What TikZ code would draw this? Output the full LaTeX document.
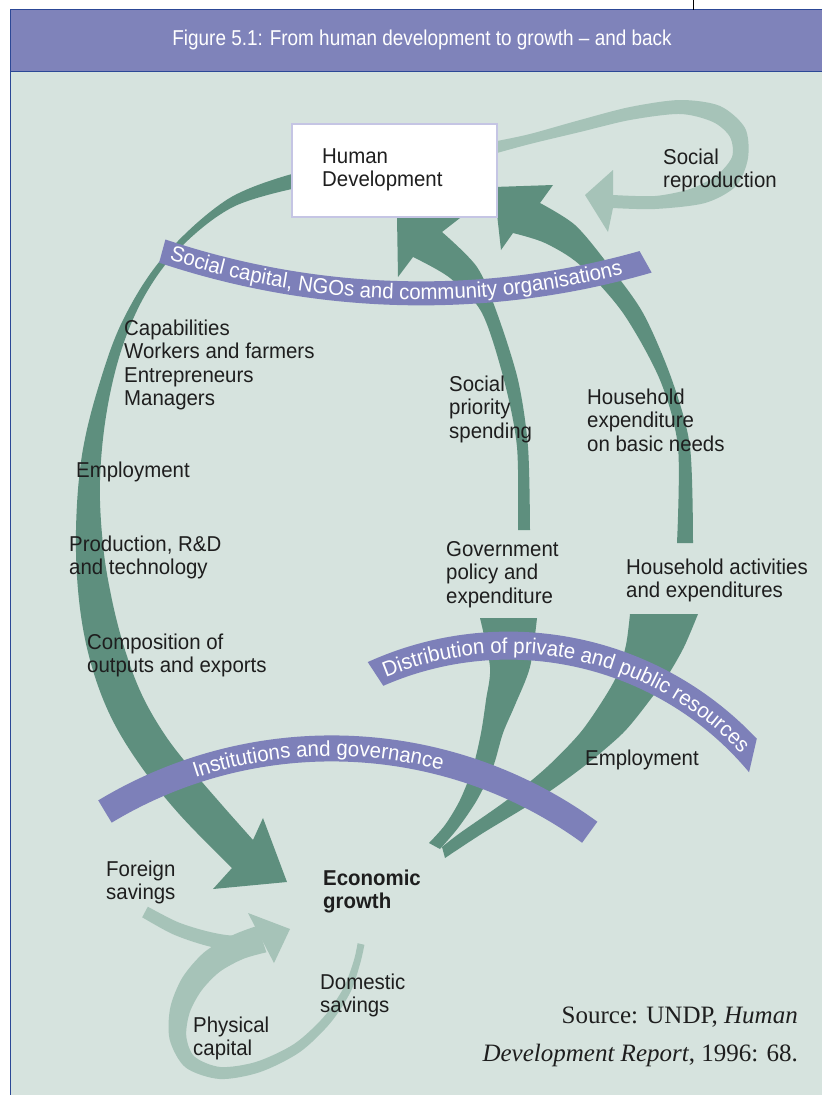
\documentclass[tikz,border=0pt]{standalone}
\usepackage{fontspec}
\setmainfont{Liberation Sans}[FakeStretch=0.95]
\newfontfamily\titlefont{Liberation Sans}[FakeStretch=0.88]
\newfontfamily\srcfont{Liberation Serif}
\usetikzlibrary{decorations.text}
\definecolor{panel}{HTML}{D6E3DE}
\definecolor{band}{HTML}{7F83BA}
\definecolor{edgeblue}{HTML}{2C4896}
\definecolor{dgreen}{HTML}{5E8F7E}
\definecolor{lgreen}{HTML}{A6C3B8}
\definecolor{bannercol}{HTML}{7D80B9}
\definecolor{boxedge}{HTML}{C5C5E4}
\definecolor{ink}{HTML}{1E1E1E}
\newcommand\lblfont{\fontsize{21.5}{23.5}\selectfont}
\newcommand\bannerfont{\fontsize{21.5}{21.5}\selectfont}
\begin{document}
\begin{tikzpicture}[x=1pt,y=-1pt,
  lbl/.style={anchor=base west, inner sep=0pt, align=left, text=ink, font=\lblfont},
  bannertext/.style={decorate, decoration={text along path, text color=white, text align=left, text={|\bannerfont|#1}}}]
\useasboundingbox (0,0) rectangle (822,1095);
\fill[white] (0,0) rectangle (822,1095);
% panel and header
\fill[panel] (10.5,71.5) rectangle (822,1095);
\fill[band] (10.5,9.5) rectangle (822,71.5);
\draw[edgeblue, line width=1.5pt] (822,9.5) -- (10.5,9.5) -- (10.5,1095);
\draw[edgeblue, line width=1.5pt] (10.5,71.5) -- (822,71.5);
\draw[black, line width=0.8pt] (693,0) -- (693,9.5);
\node[text=white, font=\titlefont\fontsize{21.5}{21.5}\selectfont, anchor=base, inner sep=0pt] (title) at (422,45) {Figure 5.1: From human development to growth – and back};

% light green: social reproduction loop
\fill[lgreen] plot[smooth] coordinates {(497,141) (530,134) (580,120) (630,107) (680,100) (720,106) (745,128) (748,158) (736,186) (705,203) (655,209) (613,208)}
  -- (608,232) -- (585,195) -- (613,170)
  -- plot[smooth] coordinates {(613,195) (655,196) (690,189) (716,176) (732,157) (730,137) (713,122) (680,114) (630,120) (580,132) (530,144) (497,153)} -- cycle;

% light green: savings loop
\fill[lgreen] plot[smooth] coordinates {(257.6,925.7) (232.6,935.2) (204.2,952.3) (182.4,977.6) (170.3,1007.5) (169.7,1039.6) (185.5,1067.4) (219.6,1079.0) (259.7,1072.2) (299.8,1052.1) (330.4,1022.9) (350.6,991.8) (360.3,963.0) (364.4,944.8)}
  -- plot[smooth] coordinates {(357.6,943.2) (353.7,961.0) (343.4,988.2) (323.6,1017.1) (294.2,1043.9) (256.3,1061.8) (220.4,1067.0) (194.5,1056.6) (186.3,1036.4) (189.7,1012.5) (201.6,990.4) (219.8,971.7) (243.4,958.8) (266.4,952.3)} -- cycle;
\fill[lgreen] plot[smooth] coordinates {(147.8,906.7) (177.6,922.0) (206.8,931.2) (232.3,935.5) (257.1,932.1)}
  -- plot[smooth] coordinates {(258.9,947.9) (231.7,950.5) (203.2,944.8) (172.4,934.0) (142.2,917.3)} -- cycle;
\fill[lgreen] (290,929) -- (248,913) -- (274,963) -- cycle;

% dark green: big left arrow
\fill[dgreen] plot[smooth, tension=0.6] coordinates {(292,174) (228,199) (165,255) (124,318) (99,385) (82,455) (76,530) (79,600) (90,660) (110,715) (140,765) (180,815) (232,868)}
  -- (213,889) -- (287,882) -- (263,818)
  -- plot[smooth, tension=0.6] coordinates {(253,840) (222,805) (192,770) (165,735) (142,695) (125,650) (112,600) (103,545) (100,480) (107,410) (123,345) (148,290) (183,245) (233,207) (292,189)} -- cycle;
% social priority spending arrow
\fill[dgreen] (397,217) -- (460,218)
  -- plot[smooth] coordinates {(442,232) (477,267) (497,313) (518,380) (528,447) (530,530)}
  -- plot[smooth] coordinates {(518,530) (517,447) (504,380) (482,313) (450,278) (413,257)}
  -- (398,277) -- cycle;
% household expenditure arrow
\fill[dgreen] (494,187) -- (553,185)
  -- plot[smooth] coordinates {(540,203) (575,225) (607,263) (643,313) (672,380) (690,447) (693,543)}
  -- plot[smooth] coordinates {(677,543) (678,447) (660,380) (623,313) (580,265) (545,243) (513,233)}
  -- (501,250) -- cycle;
% government horn
\fill[dgreen] (480,618) -- (537,618)
  -- plot[smooth] coordinates {(537,618) (530,667) (515,705) (503,733) (493,767) (477,800) (458,828) (440,849)}
  -- plot[smooth] coordinates {(429,843) (445,825) (460,800) (473,767) (481,733) (486,700) (490,667) (480,618)} -- cycle;
% household horn
\fill[dgreen] (630,614) -- (698,614)
  -- plot[smooth] coordinates {(698,614) (684,647) (668,675) (650,700) (623,733) (583,767) (537,800) (483,833) (445,858)}
  -- plot[smooth] coordinates {(442,847) (460,833) (507,800) (547,767) (580,733) (603,700) (617,675) (626,645) (630,614)} -- cycle;

% Human development box
\node[draw=boxedge, line width=2pt, fill=white, minimum width=205pt, minimum height=93pt, inner sep=0pt] (hdbox) at (394.5,170.5) {};
\node[lbl] (hdtext) at (322,186.5) {Human\\Development};

% banners
\coordinate (c1) at (421.2,-520.6);
\coordinate (c2) at (508.6,972.6);
\coordinate (c3) at (331.7,1187.4);
\fill[bannercol] ([shift={(c1)}]108.6:802) arc[start angle=108.6, end angle=74.2, radius=802]
  -- ([shift={(c1)}]73.8:826) arc[start angle=73.8, end angle=108.5, radius=826] -- cycle;
\path[bannertext={Social capital, NGOs and community organisations}] ([shift={(c1)}]107.9:820) arc[start angle=107.9, end angle=68, radius=820];
\fill[bannercol] ([shift={(c2)}]-114.4:341) arc[start angle=-114.4, end angle=-43.3, radius=341]
  -- ([shift={(c2)}]-39.8:313) arc[start angle=-39.8, end angle=-113.6, radius=313] -- cycle;
\path[bannertext={Distribution of private and public resources}] ([shift={(c2)}]-112.6:319.5) arc[start angle=-112.6, end angle=-28, radius=319.5];
\fill[bannercol] ([shift={(c3)}]-121.1:452) arc[start angle=-121.1, end angle=-54, radius=452]
  -- ([shift={(c3)}]-54:426) arc[start angle=-54, end angle=-121.1, radius=426] -- cycle;
\path[bannertext={Institutions and governance}] ([shift={(c3)}]-108.4:431.5) arc[start angle=-108.4, end angle=-60, radius=431.5];

% labels (anchor at the baseline of the last line)
\node[lbl] (socrep) at (663,187.5) {Social\\reproduction};
\node[lbl] (caps) at (124,405.5) {Capabilities\\Workers and farmers\\Entrepreneurs\\Managers};
\node[lbl] (emplA) at (76,477) {Employment};
\node[lbl] (prod) at (69,574.5) {Production, R\&D\\and technology};
\node[lbl] (comp) at (87,672.5) {Composition of\\outputs and exports};
\node[lbl] (spend) at (449,438) {Social\\priority\\spending};
\node[lbl] (hhexp) at (587,451) {Household\\expenditure\\on basic needs};
\node[lbl] (gov) at (446,603) {Government\\policy and\\expenditure};
\node[lbl] (hhact) at (626,597.5) {Household activities\\and expenditures};
\node[lbl] (emplB) at (585,765) {Employment};
\node[lbl] (foreign) at (106,899.5) {Foreign\\savings};
\node[lbl, font=\lblfont\bfseries] (econ) at (323,908.5) {Economic\\growth};
\node[lbl] (domestic) at (320,1012.5) {Domestic\\savings};
\node[lbl] (physical) at (193,1055.5) {Physical\\capital};
\node[anchor=base east, align=right, inner sep=0pt, text=ink, font=\srcfont\fontsize{25}{37.5}\selectfont] (source) at (798,1061) {Source: UNDP, \textit{Human}\\\textit{Development Report}, 1996: 68.};
\end{tikzpicture}
\end{document}
